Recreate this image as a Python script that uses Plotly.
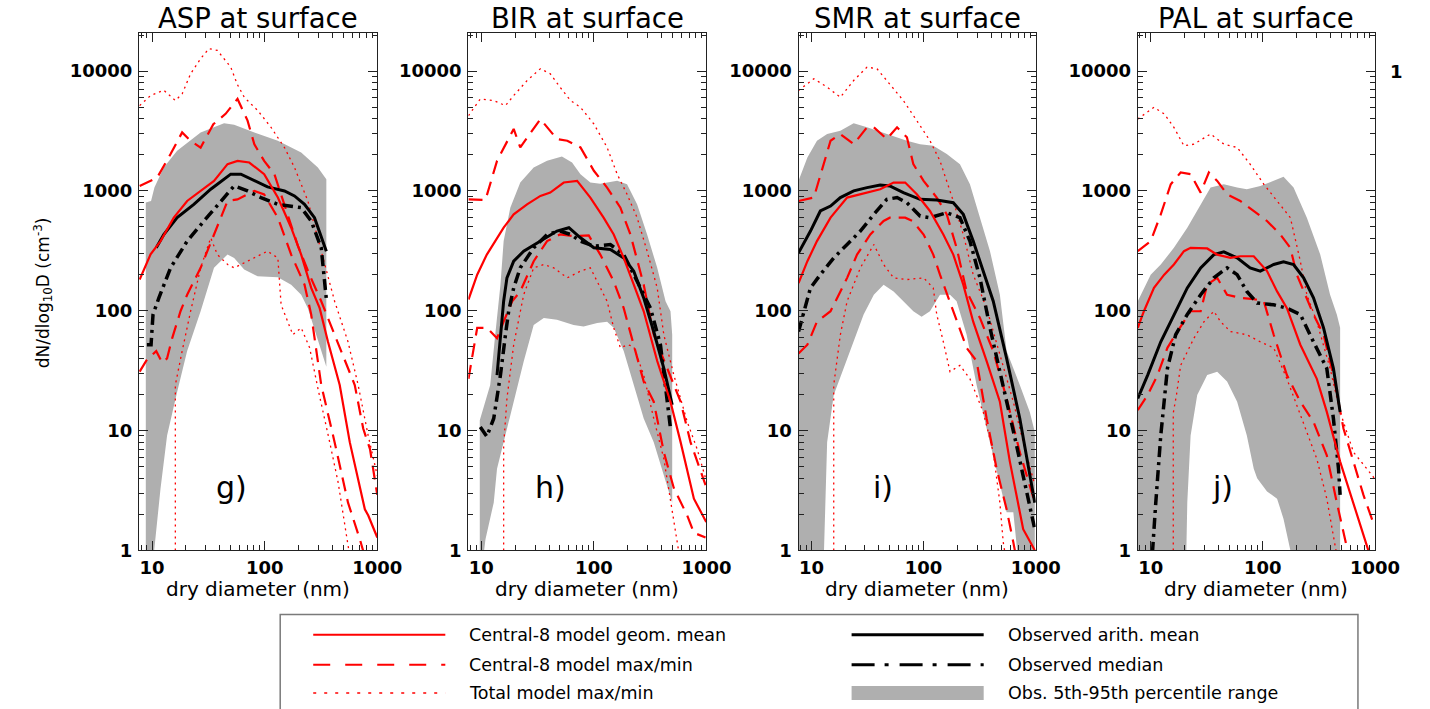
import plotly.graph_objects as go

# ---------------- data ----------------
panel_titles = ["ASP at surface", "BIR at surface", "SMR at surface", "PAL at surface"]
panel_letters = ["g)", "h)", "i)", "j)"]
x_tick_vals = [10, 100, 1000]
x_tick_text = ["10", "100", "1000"]
y_tick_vals = [1, 10, 100, 1000, 10000]
y_tick_text = ["1", "10", "100", "1000", "10000"]

# ---- ASP ----
asp_p95_d = [8.8, 9.8, 10.5, 12.7, 16.7, 27, 43.6, 53.6, 81, 131, 211, 297, 353]
asp_p95 = [800, 824, 1066, 1570, 2164, 3080, 3665, 3573, 3080, 2624, 2096, 1570, 1254]
asp_p05_d = [8.8, 10.2, 10.7, 11.9, 13.6, 16.7, 20.5, 27, 35.5, 46.8, 53.6, 65.8, 86.6, 131, 172, 211, 242, 287, 353]
asp_p05 = [0.5, 0.8, 1.1, 3.3, 9.1, 21, 46, 99, 228, 294, 276, 221, 194, 190, 165, 136, 105, 63, 34]
asp_mean_d = [10.9, 12.7, 16.7, 23.5, 33.2, 50, 61.5, 81, 106, 150, 184, 226, 277, 353]
asp_mean = [335, 433, 598, 773, 1033, 1380, 1380, 1213, 1081, 1000, 908, 773, 598, 314]
asp_median_d = [9.0, 9.8, 10.2, 11.5, 14.6, 20.5, 28.9, 40.7, 53.6, 70.5, 92.7, 131, 172, 211, 259, 318, 353]
asp_median = [52, 52, 93, 128, 228, 381, 561, 824, 1101, 1000, 880, 773, 748, 725, 561, 335, 125]
asp_model_d = [7.76, 9.7, 11.9, 15.6, 20.5, 27, 35.5, 46.8, 57.4, 73, 99, 131, 172, 211, 259, 308, 365, 464, 570, 776, 832, 1000]
asp_model = [182, 295, 381, 598, 824, 1000, 1213, 1673, 1780, 1726, 1380, 880, 493, 294, 155, 105, 55, 24, 8, 2.2, 1.95, 1.28]
asp_c8max_d = [7.76, 11.1, 14.6, 18.5, 22, 27, 35, 45, 57.4, 70.5, 81, 99, 122, 160, 197, 250, 318, 418, 550, 631, 750, 862, 1000]
asp_c8max = [1100, 1290, 2030, 3080, 2620, 2300, 3600, 4400, 5860, 3860, 2450, 1780, 1380, 640, 350, 200, 120, 63, 33, 24, 10.4, 7, 2.9]
asp_c8min_d = [7.76, 9.0, 10.9, 12.3, 13.6, 15.1, 17.9, 20.5, 27, 35.5, 46.8, 57.4, 81, 99, 131, 172, 226, 259, 318, 418, 550, 700, 800]
asp_c8min = [31, 39, 46, 37, 40, 59, 99, 136, 228, 433, 824, 850, 1000, 935, 598, 294, 165, 93, 24, 8, 2.5, 1.24, 0.8]
asp_totmax_d = [7.76, 9.7, 12.7, 16.1, 18.5, 22, 27, 32, 38, 50, 57, 66, 87, 114, 150, 184, 242, 318, 418, 550, 676, 830, 1000]
asp_totmax = [5150, 6250, 6930, 5680, 6460, 9500, 12700, 15400, 14900, 10800, 7800, 6030, 4680, 3390, 2300, 1570, 824, 314, 120, 55, 24, 9.1, 4.2]
asp_totmin_d = [16.1, 16.1, 18.5, 22, 27, 33.2, 38, 47, 53.6, 70.5, 106, 131, 140, 178, 211, 251, 297, 378, 449, 550, 600]
asp_totmin = [0.5, 24, 46, 99, 228, 406, 294, 243, 228, 259, 314, 276, 112, 63, 72, 49, 22.5, 8, 3.7, 1.1, 0.7]

# ---- BIR ----
bir_p95_d = [9.7, 12.0, 13.3, 14.3, 14.8, 15.8, 18.1, 22.2, 29.2, 38.4, 52, 64, 76, 93, 114, 161, 197, 242, 297, 365, 433, 479, 496]
bir_p95 = [12.2, 24, 63, 120, 165, 381, 725, 1175, 1570, 1783, 1940, 1727, 1380, 1175, 1150, 1213, 1137, 773, 433, 228, 120, 99, 63]
bir_p05_d = [9.7, 10.9, 12.9, 13.8, 15.8, 19.4, 23.8, 29.2, 35.9, 47, 66, 81, 107, 131, 150, 184, 226, 277, 340, 418, 496]
bir_p05 = [0.5, 1.24, 2.5, 4.8, 8, 17.4, 37.6, 76, 87, 84, 76, 74, 79, 81, 72, 46, 24, 12.6, 8, 4.2, 2.5]
bir_mean_d = [13.8, 14.8, 15.8, 16.9, 19.4, 23.8, 33.5, 47, 60, 76, 100, 140, 184, 226, 277, 340, 418, 496]
bir_mean = [29, 63, 120, 188, 259, 314, 381, 462, 493, 406, 335, 324, 276, 214, 128, 67, 33, 16.4]
bir_median_d = [9.8, 11.2, 12.9, 14.8, 16.4, 17.5, 19.4, 22.2, 29.2, 38.4, 50, 62, 76, 100, 140, 184, 242, 318, 390, 433, 479]
bir_median = [10.7, 8.9, 12.6, 29, 63, 99, 155, 228, 335, 433, 462, 433, 381, 346, 357, 294, 176, 105, 52, 24, 10.4]
bir_model_d = [7.7, 9.2, 11.2, 15.8, 19.4, 25.5, 33.5, 41, 54, 71, 93, 122, 150, 184, 226, 277, 365, 479, 589, 773, 995]
bir_model = [124, 200, 294, 493, 637, 773, 908, 968, 1175, 1213, 880, 598, 433, 276, 165, 99, 38, 17.4, 8, 2.7, 1.72]
bir_c8max_d = [7.7, 10.9, 13.8, 19.4, 22.2, 33.5, 47, 58, 76, 100, 131, 172, 211, 277, 340, 447, 589, 721, 981]
bir_c8max = [851, 841, 1783, 3290, 2307, 3980, 2710, 2624, 2307, 1472, 1066, 725, 433, 165, 63, 33, 17.4, 8, 3.5]
bir_c8min_d = [7.7, 9.2, 11.2, 13.8, 15.8, 18.8, 22.2, 29.2, 38.4, 50, 66, 90, 114, 150, 184, 226, 277, 340, 418, 513, 675, 773, 981]
bir_c8min = [27, 72, 72, 59, 81, 120, 145, 259, 381, 433, 420, 425, 294, 176, 105, 52, 25.6, 17.4, 6.6, 3.3, 1.95, 1.4, 1.28]
bir_totmax_d = [7.7, 9.8, 12.9, 16.4, 19.4, 25.5, 33.5, 41, 50, 62, 76, 100, 131, 161, 197, 242, 297, 365, 418, 513, 675, 826, 981]
bir_totmax = [4250, 5860, 5680, 5150, 6250, 8330, 10470, 9500, 7350, 5680, 4990, 3620, 2307, 1380, 937, 598, 314, 155, 63, 29, 11.8, 7, 4]
bir_totmin_d = [15.8, 15.8, 16.9, 19.4, 23.8, 29.2, 36, 44, 58, 76, 93, 131, 150, 172, 200, 226, 277, 340, 418, 479, 550, 600]
bir_totmin = [0.5, 7.5, 18.5, 52, 136, 228, 243, 228, 188, 214, 228, 120, 72, 49, 52, 50, 29, 12.6, 5.8, 2.5, 1.17, 0.7]

# ---- SMR ----
smr_p95_d = [7.67, 9.2, 11.2, 13.8, 18.1, 23.8, 31.3, 47, 71, 93, 122, 161, 211, 259, 318, 391, 479, 550, 721, 885, 981]
smr_p95 = [1213, 1905, 2624, 2985, 3185, 3665, 3395, 2985, 2624, 2455, 2380, 2030, 1673, 1137, 598, 314, 136, 46, 24, 14.3, 9.7]
smr_p05_d = [7.67, 12.9, 13.2, 13.8, 15.8, 19.4, 23.8, 29.2, 36, 44, 54, 66, 81, 96, 114, 140, 172, 197, 242, 297, 365, 448, 550, 631, 700, 981]
smr_p05 = [0.5, 0.9, 2.5, 8, 19.8, 33, 55, 93, 136, 165, 145, 120, 99, 89, 99, 136, 136, 120, 63, 24, 10.4, 4.8, 2.08, 2.08, 0.8, 0.8]
smr_mean_d = [7.67, 9.8, 12, 14.8, 18.1, 23.8, 31.3, 41, 50, 66, 93, 131, 184, 226, 277, 340, 418, 550, 721, 981]
smr_mean = [304, 462, 680, 748, 880, 1000, 1066, 1122, 1101, 968, 851, 841, 798, 637, 381, 214, 120, 40, 12.6, 2.5]
smr_median_d = [7.67, 8.6, 9.8, 12, 15.8, 20.8, 27.3, 36, 47, 58, 71, 93, 114, 161, 211, 259, 318, 391, 513, 675, 981]
smr_median = [67, 99, 155, 200, 276, 357, 462, 637, 851, 880, 798, 617, 598, 658, 598, 381, 188, 72, 24, 7.5, 1.5]
smr_model_d = [7.67, 9.2, 11.2, 14.8, 20.8, 31.3, 41, 54, 68.5, 87, 114, 150, 184, 226, 277, 365, 479, 588, 773, 981]
smr_model = [170, 259, 381, 598, 880, 968, 1033, 1175, 1175, 937, 680, 433, 294, 165, 81, 38, 17.4, 5.5, 1.5, 1.0]
smr_c8max_d = [7.67, 10.5, 14.8, 18.1, 23.8, 31.3, 36, 47, 58, 71, 81, 100, 131, 161, 197, 242, 318, 418, 550, 721, 981]
smr_c8max = [824, 880, 2624, 2985, 2455, 3395, 3395, 2710, 3395, 2800, 1673, 1213, 880, 637, 335, 145, 87, 46, 18.5, 6.6, 2.5]
smr_c8min_d = [7.67, 9.2, 11.2, 14.8, 16.4, 20.8, 25.5, 33.5, 44, 50, 68.5, 80, 100, 122, 140, 184, 242, 297, 365, 448, 550, 631, 700]
smr_c8min = [44, 52, 81, 99, 120, 188, 294, 433, 561, 598, 598, 560, 433, 294, 200, 99, 49, 38, 12.6, 4.8, 2.2, 1.17, 0.7]
smr_totmax_d = [7.67, 10.5, 13.8, 18.1, 23.8, 31.3, 38.4, 50, 66, 87, 114, 140, 161, 184, 226, 277, 365, 479, 631, 773, 981]
smr_totmax = [6890, 8630, 7350, 6050, 8350, 10800, 10470, 7830, 5680, 3860, 2624, 1783, 1213, 824, 433, 200, 105, 43, 17.4, 8, 3.5]
smr_totmin_d = [15.8, 15.8, 18.1, 20.8, 27.3, 36, 44, 54, 71, 100, 122, 131, 150, 172, 211, 259, 340, 418, 479, 513, 560]
smr_totmin = [0.5, 24, 63, 120, 228, 357, 243, 188, 182, 188, 155, 93, 55, 31, 35, 27, 14.3, 6.6, 2.5, 1.17, 0.7]

# ---- PAL ----
pal_p95_d = [7.67, 8.2, 10, 12.3, 16.1, 21.2, 27.9, 34.2, 44.9, 59, 72, 95, 125, 153, 188, 247, 325, 398, 457, 489]
pal_p95 = [120, 136, 200, 243, 335, 493, 773, 1066, 1137, 1066, 1033, 1101, 1213, 1310, 1066, 598, 294, 136, 93, 72]
pal_p05_d = [7.67, 20.5, 21.2, 22.7, 26, 31.9, 39.2, 48, 59, 72, 83, 89, 109, 134, 153, 176, 180, 489]
pal_p05 = [0.5, 0.5, 2.5, 9.1, 19.8, 29, 31, 25.6, 17.4, 9.1, 4.8, 4, 3.1, 2.7, 1.83, 1.0, 0.5, 0.5]
pal_mean_d = [7.67, 9.4, 12.3, 16.1, 21.2, 27.9, 36.6, 44.9, 59, 77, 95, 125, 153, 188, 231, 283, 348, 426, 489]
pal_mean = [18.5, 29, 55, 93, 155, 228, 294, 310, 276, 228, 214, 243, 256, 243, 188, 128, 72, 33, 14.3]
pal_median_d = [10.2, 10.4, 11.1, 12.3, 14.1, 16.7, 21.2, 27.9, 36.6, 48, 59, 72, 89, 125, 164, 216, 283, 372, 426, 473, 489]
pal_median = [0.6, 1.0, 2.5, 9.1, 33, 63, 93, 136, 188, 228, 200, 145, 116, 112, 105, 93, 55, 33, 12.6, 4.8, 2.9]
pal_model_d = [7.67, 8.7, 10.7, 13.2, 16.1, 19.8, 22.7, 31.9, 39.2, 51.5, 63, 83, 109, 134, 164, 216, 303, 372, 489, 643, 789, 873]
pal_model = [72, 99, 155, 200, 243, 314, 335, 331, 294, 276, 285, 285, 214, 145, 105, 52, 27, 14.3, 5.5, 2.5, 1.4, 1.0]
pal_c8max_d = [7.67, 10, 12.3, 15.1, 18.5, 22.7, 27.9, 33, 39.2, 48, 63, 83, 109, 143, 176, 201, 231, 283, 348, 426, 524, 643, 789, 988]
pal_c8max = [314, 381, 637, 1137, 1425, 1380, 968, 1425, 1213, 937, 824, 680, 561, 433, 335, 200, 145, 93, 63, 29, 10.4, 5.5, 2.9, 1.6]
pal_c8min_d = [7.67, 9.4, 11.5, 14.1, 17.3, 22.7, 27.9, 31.9, 39.2, 48, 63, 83, 102, 125, 164, 216, 283, 372, 457, 561, 620]
pal_c8min = [14.8, 19.8, 29, 49, 67, 99, 99, 165, 188, 136, 128, 125, 120, 63, 29, 17.4, 11.8, 6.2, 2.5, 1.0, 0.7]
pal_totmax_d = [7.67, 10.7, 13.2, 16.1, 19.8, 24.3, 34.2, 45, 59, 77, 102, 134, 176, 216, 247, 303, 398, 489, 643, 988]
pal_totmax = [3980, 4990, 4390, 3395, 2380, 2455, 2985, 2455, 2307, 1673, 1137, 824, 598, 259, 136, 81, 33, 14.3, 6.6, 4]
pal_totmin_d = [15.9, 15.9, 17.0, 18.5, 24.3, 29.9, 36.6, 42, 51.5, 72, 95, 125, 164, 216, 303, 372, 442, 480]
pal_totmin = [0.5, 14, 20, 35, 59, 81, 99, 81, 67, 63, 55, 49, 27, 13.4, 5.8, 2.7, 1.0, 0.7]

legend_labels_left = ["Central-8 model geom. mean", "Central-8 model max/min", "Total model max/min"]
legend_labels_right = ["Observed arith. mean", "Observed median", "Obs. 5th-95th percentile range"]

# ---------------- layout constants ----------------
# positions are given in reference pixels (1430 x 709 design grid) and converted to paper fractions
REF_W, REF_H = 1430, 709
W, H = 1456, 722          # rendered figure size (photo is scaled to the 1430x709 frame)
PANEL_X = [(139, 377), (468, 706), (798, 1035), (1137, 1374)]
PANEL_TOP, PANEL_BOT = 33, 548
RED = "#ff0000"
GRAY = "#afafaf"
AXC = "#222222"
FONT = "DejaVu Sans"


def px(x):
    return x / REF_W


def py(y):
    return 1 - y / REF_H


panels = [
    dict(p95=(asp_p95_d, asp_p95), p05=(asp_p05_d, asp_p05), mean=(asp_mean_d, asp_mean),
         median=(asp_median_d, asp_median), model=(asp_model_d, asp_model),
         c8max=(asp_c8max_d, asp_c8max), c8min=(asp_c8min_d, asp_c8min),
         totmax=(asp_totmax_d, asp_totmax), totmin=(asp_totmin_d, asp_totmin)),
    dict(p95=(bir_p95_d, bir_p95), p05=(bir_p05_d, bir_p05), mean=(bir_mean_d, bir_mean),
         median=(bir_median_d, bir_median), model=(bir_model_d, bir_model),
         c8max=(bir_c8max_d, bir_c8max), c8min=(bir_c8min_d, bir_c8min),
         totmax=(bir_totmax_d, bir_totmax), totmin=(bir_totmin_d, bir_totmin)),
    dict(p95=(smr_p95_d, smr_p95), p05=(smr_p05_d, smr_p05), mean=(smr_mean_d, smr_mean),
         median=(smr_median_d, smr_median), model=(smr_model_d, smr_model),
         c8max=(smr_c8max_d, smr_c8max), c8min=(smr_c8min_d, smr_c8min),
         totmax=(smr_totmax_d, smr_totmax), totmin=(smr_totmin_d, smr_totmin)),
    dict(p95=(pal_p95_d, pal_p95), p05=(pal_p05_d, pal_p05), mean=(pal_mean_d, pal_mean),
         median=(pal_median_d, pal_median), model=(pal_model_d, pal_model),
         c8max=(pal_c8max_d, pal_c8max), c8min=(pal_c8min_d, pal_c8min),
         totmax=(pal_totmax_d, pal_totmax), totmin=(pal_totmin_d, pal_totmin)),
]

fig = go.Figure()
minor_x = [m * 10 ** e for e in range(0, 4) for m in range(2, 10)]
minor_y = [m * 10 ** e for e in range(0, 5) for m in range(2, 10)]
tickfont = dict(family=FONT, size=18, color="black", weight="bold")
annotations = []

for i, p in enumerate(panels):
    xa = "x" if i == 0 else f"x{i+1}"
    ya = "y" if i == 0 else f"y{i+1}"
    common = dict(xaxis=xa, yaxis=ya, showlegend=False, hoverinfo="skip", mode="lines")
    ud, uv = p["p95"]
    ld, lv = p["p05"]
    fig.add_trace(go.Scatter(x=list(ud) + list(ld)[::-1], y=list(uv) + list(lv)[::-1],
                             fill="toself", fillcolor=GRAY, line=dict(width=0), **common))
    for key in ("totmax", "totmin"):
        d, v = p[key]
        fig.add_trace(go.Scatter(x=d, y=v, line=dict(color=RED, width=1.3, dash="2px,4px"), **common))
    for key in ("c8max", "c8min"):
        d, v = p[key]
        fig.add_trace(go.Scatter(x=d, y=v, line=dict(color=RED, width=2.2, dash="14px,8px"), **common))
    d, v = p["median"]
    fig.add_trace(go.Scatter(x=d, y=v, line=dict(color="black", width=3.5, dash="11px,5px,3px,5px"), **common))
    d, v = p["mean"]
    fig.add_trace(go.Scatter(x=d, y=v, line=dict(color="black", width=3), **common))
    d, v = p["model"]
    fig.add_trace(go.Scatter(x=d, y=v, line=dict(color=RED, width=2.2), **common))

    x0, x1 = PANEL_X[i]
    axis_common = dict(type="log", showline=True, linecolor=AXC, linewidth=1.2, mirror="ticks",
                       ticks="inside", ticklen=9, tickwidth=1, tickcolor=AXC, showgrid=False,
                       zeroline=False, tickfont=tickfont, tickmode="array")
    fig.layout[("xaxis" if i == 0 else f"xaxis{i+1}")] = dict(
        domain=[px(x0), px(x1)], anchor=ya, range=[0.885, 3.0],
        tickvals=x_tick_vals, ticktext=x_tick_text, ticklabelstandoff=1,
        minor=dict(ticks="inside", ticklen=5, tickwidth=1, tickcolor=AXC, tickmode="array", tickvals=minor_x),
        **axis_common)
    fig.layout[("yaxis" if i == 0 else f"yaxis{i+1}")] = dict(
        domain=[py(PANEL_BOT), py(PANEL_TOP)], anchor=xa, range=[0, 4.317],
        tickvals=y_tick_vals, ticktext=y_tick_text, ticklabelstandoff=2,
        minor=dict(ticks="inside", ticklen=5, tickwidth=1, tickcolor=AXC, tickmode="array", tickvals=minor_y),
        **axis_common)

    cx = (x0 + x1) / 2
    annotations.append(dict(text=panel_titles[i], x=px(cx), y=py(18), xref="paper", yref="paper",
                            showarrow=False, xanchor="center", yanchor="middle",
                            font=dict(family=FONT, size=27.5, color="black")))
    annotations.append(dict(text="dry diameter (nm)", x=px(cx), y=py(587), xref="paper", yref="paper",
                            showarrow=False, xanchor="center", yanchor="middle",
                            font=dict(family=FONT, size=20, color="black")))

letter_x = [231, 550, 882, 1222]
for i, t in enumerate(panel_letters):
    annotations.append(dict(text=t, x=px(letter_x[i]), y=py(485), xref="paper", yref="paper",
                            showarrow=False, xanchor="center", yanchor="middle",
                            font=dict(family=FONT, size=30, color="black")))

annotations.append(dict(text="dN/dlog<sub>10</sub>D (cm<sup>-3</sup>)", x=px(43), y=py(292),
                        xref="paper", yref="paper", showarrow=False, textangle=-90,
                        xanchor="center", yanchor="middle",
                        font=dict(family=FONT, size=17, color="black")))
annotations.append(dict(text="1", x=px(1396), y=py(71), xref="paper", yref="paper", showarrow=False,
                        xanchor="center", yanchor="middle", font=tickfont))

# ---------------- legend (drawn manually) ----------------
shapes = []
shapes.append(dict(type="rect", xref="paper", yref="paper", x0=px(280), x1=px(1357), y0=py(612), y1=py(730),
                   line=dict(color="#7a7a7a", width=1.5), fillcolor="rgba(0,0,0,0)", layer="below"))
row_y = [632, 662, 690]
left_styles = [dict(color=RED, width=2), dict(color=RED, width=2, dash="17px,15px"),
               dict(color=RED, width=1.5, dash="3px,8px")]
for r in range(3):
    shapes.append(dict(type="line", xref="paper", yref="paper", x0=px(313), x1=px(445),
                       y0=py(row_y[r]), y1=py(row_y[r]), line=left_styles[r]))
    annotations.append(dict(text=legend_labels_left[r], x=px(467), y=py(row_y[r]), xref="paper",
                            yref="paper", showarrow=False, xanchor="left", yanchor="middle",
                            font=dict(family=FONT, size=17.5, color="black")))
shapes.append(dict(type="line", xref="paper", yref="paper", x0=px(851), x1=px(983),
                   y0=py(row_y[0]), y1=py(row_y[0]), line=dict(color="black", width=3)))
shapes.append(dict(type="line", xref="paper", yref="paper", x0=px(851), x1=px(983),
                   y0=py(row_y[1]), y1=py(row_y[1]),
                   line=dict(color="black", width=3, dash="23px,10px,4px,11px")))
shapes.append(dict(type="rect", xref="paper", yref="paper", x0=px(851), x1=px(983),
                   y0=py(697), y1=py(683), line=dict(width=0), fillcolor=GRAY))
for r in range(3):
    annotations.append(dict(text=legend_labels_right[r], x=px(1005), y=py(row_y[r]), xref="paper",
                            yref="paper", showarrow=False, xanchor="left", yanchor="middle",
                            font=dict(family=FONT, size=17.5, color="black")))

fig.update_layout(width=W, height=H, margin=dict(l=0, r=0, t=0, b=0),
                  paper_bgcolor="white", plot_bgcolor="white",
                  annotations=annotations, shapes=shapes, showlegend=False)

fig.write_html("out.html", config={"displayModeBar": False},
               post_script="document.body.style.margin='0';document.body.style.overflow='hidden';")
